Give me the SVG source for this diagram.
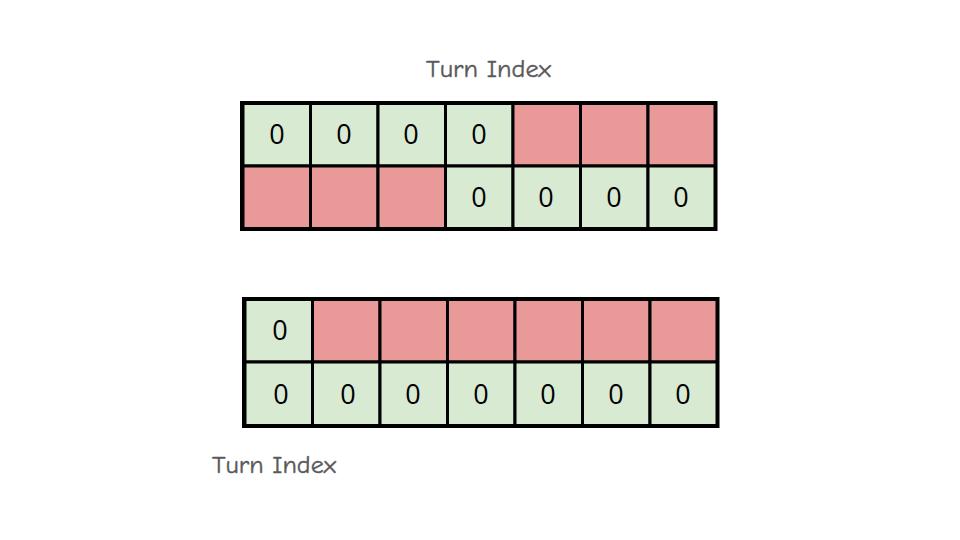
<svg xmlns="http://www.w3.org/2000/svg" width="960" height="540" viewBox="0 0 960 540">
<style>
.g{fill:#d9ead3;stroke:#000;stroke-width:3}
.r{fill:#ea9999;stroke:#000;stroke-width:3}
.f{fill:none;stroke:#000;stroke-width:4}
.d{font-family:"Open Sans","DejaVu Sans",sans-serif;font-size:27px;fill:#000;text-anchor:middle}
.l{font-family:"Comic Neue","DejaVu Sans",sans-serif;font-size:25px;fill:#595959;stroke:#595959;stroke-width:0.4}
</style>
<rect width="960" height="540" fill="#fff"/>
<text class="l" x="426" y="77" textLength="125" lengthAdjust="spacingAndGlyphs">Turn Index</text>
<g id="grid1">
<rect class="g" x="243" y="103" width="67.5" height="63"/>
<rect class="g" x="310.5" y="103" width="67.5" height="63"/>
<rect class="g" x="378" y="103" width="67.5" height="63"/>
<rect class="g" x="445.5" y="103" width="67.5" height="63"/>
<rect class="r" x="513" y="103" width="67.5" height="63"/>
<rect class="r" x="580.5" y="103" width="67.5" height="63"/>
<rect class="r" x="648" y="103" width="67.5" height="63"/>
<rect class="r" x="243" y="166" width="67.5" height="63"/>
<rect class="r" x="310.5" y="166" width="67.5" height="63"/>
<rect class="r" x="378" y="166" width="67.5" height="63"/>
<rect class="g" x="445.5" y="166" width="67.5" height="63"/>
<rect class="g" x="513" y="166" width="67.5" height="63"/>
<rect class="g" x="580.5" y="166" width="67.5" height="63"/>
<rect class="g" x="648" y="166" width="67.5" height="63"/>
<rect class="f" x="242" y="103" width="473.5" height="126"/>
<line x1="241.5" y1="102" x2="241.5" y2="230" stroke="#000" stroke-width="3"/>
<text class="d" x="277" y="144">0</text>
<text class="d" x="344" y="144">0</text>
<text class="d" x="411" y="144">0</text>
<text class="d" x="479" y="144">0</text>
<text class="d" x="479" y="207">0</text>
<text class="d" x="546" y="207">0</text>
<text class="d" x="614" y="207">0</text>
<text class="d" x="681" y="207">0</text>
</g>
<g id="grid2">
<rect class="g" x="245" y="299" width="67.5" height="63"/>
<rect class="r" x="312.5" y="299" width="67.5" height="63"/>
<rect class="r" x="380" y="299" width="67.5" height="63"/>
<rect class="r" x="447.5" y="299" width="67.5" height="63"/>
<rect class="r" x="515" y="299" width="67.5" height="63"/>
<rect class="r" x="582.5" y="299" width="67.5" height="63"/>
<rect class="r" x="650" y="299" width="67.5" height="63"/>
<rect class="g" x="245" y="362" width="67.5" height="64"/>
<rect class="g" x="312.5" y="362" width="67.5" height="64"/>
<rect class="g" x="380" y="362" width="67.5" height="64"/>
<rect class="g" x="447.5" y="362" width="67.5" height="64"/>
<rect class="g" x="515" y="362" width="67.5" height="64"/>
<rect class="g" x="582.5" y="362" width="67.5" height="64"/>
<rect class="g" x="650" y="362" width="67.5" height="64"/>
<rect class="f" x="244" y="299" width="473.5" height="127"/>
<line x1="243.5" y1="298" x2="243.5" y2="427" stroke="#000" stroke-width="3"/>
<text class="d" x="280" y="340">0</text>
<text class="d" x="281" y="404">0</text>
<text class="d" x="348" y="404">0</text>
<text class="d" x="413" y="404">0</text>
<text class="d" x="481" y="404">0</text>
<text class="d" x="548" y="404">0</text>
<text class="d" x="616" y="404">0</text>
<text class="d" x="683" y="404">0</text>
</g>
<text class="l" x="212" y="473" textLength="124" lengthAdjust="spacingAndGlyphs">Turn Index</text>
</svg>
